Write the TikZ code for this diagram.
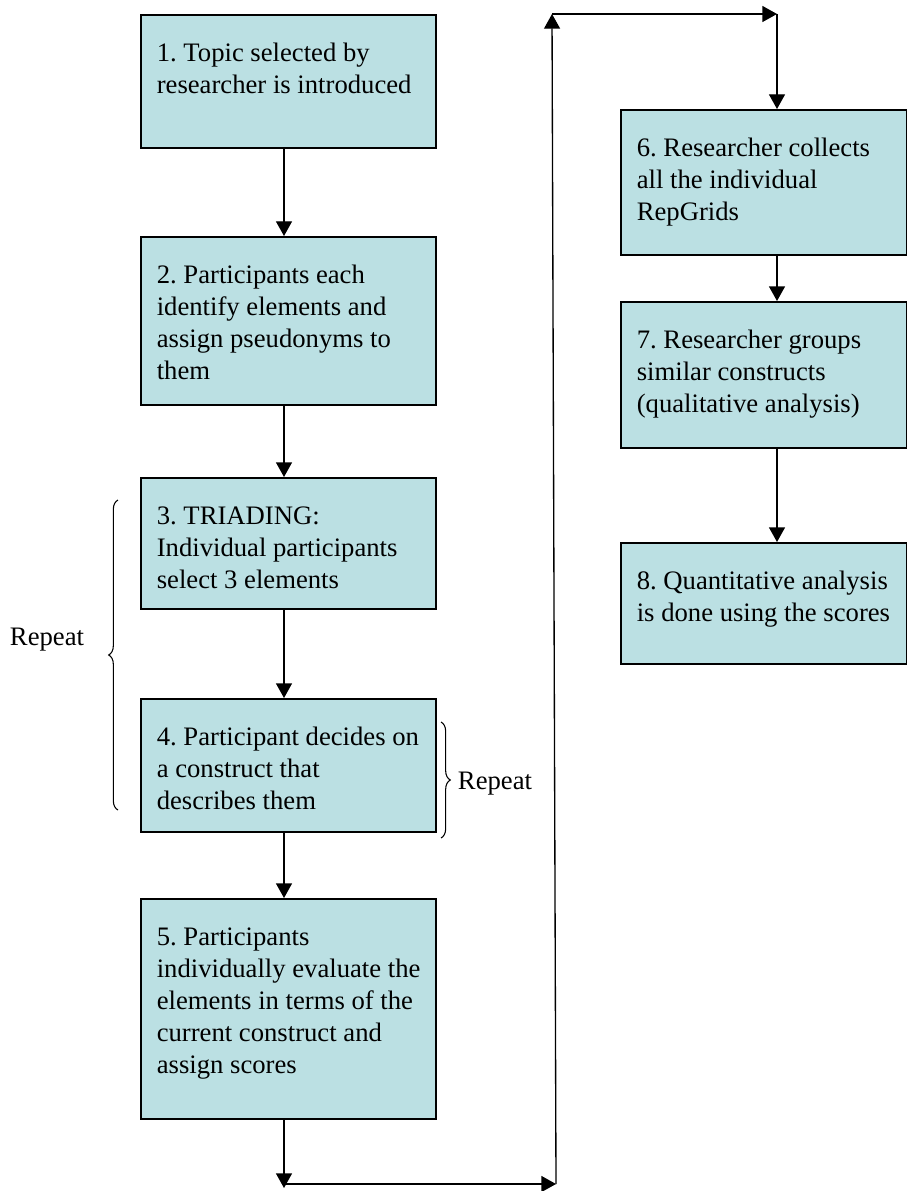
\documentclass[tikz,border=0pt]{standalone}
\usepackage{fontspec}
\setmainfont{Liberation Serif}
\usetikzlibrary{arrows.meta,decorations.pathreplacing}

\definecolor{stagefill}{RGB}{187,224,227}

\tikzset{
  stage/.style={draw, line width=1.2pt, fill=stagefill, anchor=north west,
    inner xsep=0pt, inner ysep=0pt, align=left, text height=35.25pt,
    font=\fontsize{20}{24}\selectfont,
    execute at begin node={\leftskip=12pt\spaceskip=0pt\xspaceskip=0pt\frenchspacing}},
  leftstage/.style={stage, text width=221.25pt},
  rightstage/.style={stage, text width=214.5pt},
  flow/.style={line width=1pt, -{Triangle[length=11pt,width=12pt]}},
  repbrace/.style={line width=0.8pt, decorate, decoration={brace, amplitude=7pt}},
  replabel/.style={font=\fontsize{20}{24}\selectfont}
}

\begin{document}
\begin{tikzpicture}[x=0.75pt,y=-0.75pt]
  \useasboundingbox (0,0) rectangle (906,1191);

  % left column
  \node[leftstage, text depth=64.5pt] (s1) at (140,14) {1. Topic selected by\\researcher is introduced};
  \node[leftstage, text depth=90.75pt] (s2) at (140,236) {2. Participants each\\identify elements and\\assign pseudonyms to\\them};
  \node[leftstage, text depth=63pt] (s3) at (140,477) {3. TRIADING:\\Individual participants\\select 3 elements};
  \node[leftstage, text depth=64.5pt] (s4) at (140,698) {4. Participant decides on\\a construct that\\describes them};
  \node[leftstage, text depth=129.75pt] (s5) at (140,898) {5. Participants\\individually evaluate the\\elements in terms of the\\current construct and\\assign scores};

  % right column
  \node[rightstage, text depth=73.5pt] (s6) at (620,109) {6. Researcher collects\\all the individual\\RepGrids};
  \node[rightstage, text depth=74.25pt] (s7) at (620,301) {7. Researcher groups\\similar constructs\\(qualitative analysis)};
  \node[rightstage, text depth=55.5pt] (s8) at (620,542) {8. Quantitative analysis\\is done using the scores};

  \coordinate (lcol) at (284,0);
  \coordinate (rcol) at (777,0);

  \draw[flow] (s1.south -| lcol) -- (s2.north -| lcol);
  \draw[flow] (s2.south -| lcol) -- (s3.north -| lcol);
  \draw[flow] (s3.south -| lcol) -- (s4.north -| lcol);
  \draw[flow] (s4.south -| lcol) -- (s5.north -| lcol);

  % the way round to the right column
  \coordinate (c1) at (284,1188);
  \coordinate (c2) at (556,1184);
  \coordinate (c3) at (552,14);
  \coordinate (c4) at (777,14);
  \draw[flow] (s5.south -| lcol) -- (c1);
  \draw[flow] (lcol |- c2) -- (c2);
  \draw[flow] (c2) -- (c3);
  \draw[flow] (c3) -- (c4);
  \draw[flow] (c4) -- (s6.north -| rcol);

  \draw[flow] (s6.south -| rcol) -- (s7.north -| rcol);
  \draw[flow] (s7.south -| rcol) -- (s8.north -| rcol);

  % repeat braces
  \coordinate (b1) at (118,810);
  \coordinate (b2) at (118,500);
  \draw[repbrace] (b1) -- (b2);
  \node[replabel] (rep1) at (47,640) {Repeat};

  \coordinate (b3) at (441,722);
  \coordinate (b4) at (441,838);
  \draw[repbrace] (b3) -- (b4);
  \node[replabel] (rep2) at (495,784) {Repeat};
\end{tikzpicture}
\end{document}
